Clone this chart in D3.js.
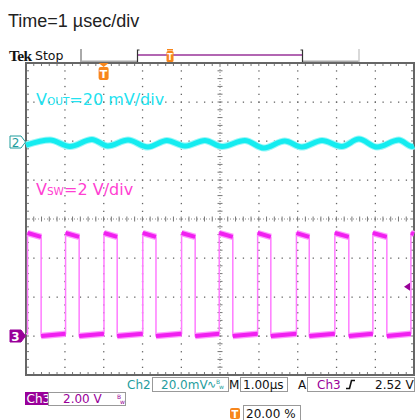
<!DOCTYPE html>
<html><head><meta charset="utf-8">
<script src="https://cdn.jsdelivr.net/npm/d3@7"></script>
<style>html,body{margin:0;padding:0;background:#fff;}svg{display:block;}</style>
</head><body>
<script>
// ---- data ----
const title = "Time=1 µsec/div";
const divisionsX = 10, divisionsY = 8, minorPerDiv = 5;
const timeDomain = [0, 10];              // µs
// Ch3 switching node: edge times (µs) and levels (V)
const swRise = [0.04, 1.02, 2.01, 3.01, 4.01, 4.98, 5.97, 6.97, 7.96, 8.94, 9.92];
const swFall = [0.39, 1.37, 2.35, 3.35, 4.36, 5.33, 6.31, 7.30, 8.32, 9.30];
const swHighLevels = [5.28, 5.08];       // start / end of on-time
const swLowLevels = [0.0, 0.12];         // start / end of off-time
// Ch2 output ripple (mV) at read-off turning points
const voutT  = [0, 0.62, 1.13, 1.70, 2.11, 2.63, 3.14, 3.63, 4.10, 4.61, 5.05, 5.64, 6.13, 6.67, 7.11, 7.63, 8.14, 8.58, 9.05, 9.61, 9.95, 10];
const voutMv = [-1.6, 1.0, -2.3, 1.3, -2.05, 1.0, -2.6, 0.8, -2.05, 0.8, -2.3, 0.8, -3.1, 0.5, -2.6, 0.8, -2.3, 1.5, -2.6, 1.0, -2.3, -2.05];
const labelVout = ["V", "OUT", "=20 mV/div"];
const labelVsw = ["V", "SW", "=2 V/div"];
const ch2Scale = "20.0mV", ch3Scale = "2.00 V", timeBase = "1.00µs", trigLevel = "2.52 V", trigPos = "20.00 %";
const trigTime = 2.0, trigVolts = 2.52;

// ---- layout ----
const W = 417, H = 420;
const gL = 26, gR = 414, gT = 63, gB = 375;
const svg = d3.select("body").append("svg").attr("width", W).attr("height", H);
const x = d3.scaleLinear().domain(timeDomain).range([gL, gR]);
const gx = d3.scaleLinear().domain([0, divisionsX]).range([gL, gR]);
const gy = d3.scaleLinear().domain([0, divisionsY]).range([gT, gB]);
const y2 = d3.scaleLinear().domain([0, 20]).range([142, 103]);   // mV
const y3 = d3.scaleLinear().domain([0, 2]).range([336, 297]);    // V

const orange = "#f7861c", purple = "#990099", teal = "#1f9d9d";

// title
svg.append("text").attr("x", 8).attr("y", 27).text(title)
  .style("font-family", "Liberation Sans, Arial, sans-serif").style("font-size", "18px").attr("fill", "#222");

// Tek Stop header
svg.append("text").attr("x", 9).attr("y", 60.5).text("Tek")
  .style("font-family", "Liberation Serif, serif").style("font-weight", "bold").style("font-size", "15.5px")
  .style("letter-spacing", "-0.6px").attr("fill", "#111");
svg.append("text").attr("x", 35).attr("y", 60).text("Stop")
  .style("font-family", "DejaVu Sans, sans-serif").style("font-size", "12.5px").attr("fill", "#111");
const hdr = svg.append("g");
hdr.append("line").attr("x1", 81).attr("x2", 81).attr("y1", 49).attr("y2", 62).attr("stroke", "#555");
hdr.append("line").attr("x1", 81).attr("x2", 137).attr("y1", 61.5).attr("y2", 61.5).attr("stroke", "#aaa").attr("stroke-width", 2);
hdr.append("line").attr("x1", 303).attr("x2", 359).attr("y1", 61.5).attr("y2", 61.5).attr("stroke", "#aaa").attr("stroke-width", 2);
hdr.append("line").attr("x1", 359).attr("x2", 359).attr("y1", 49).attr("y2", 62).attr("stroke", "#ccc").attr("stroke-width", 1.5);
hdr.append("line").attr("x1", 137).attr("x2", 303).attr("y1", 55).attr("y2", 55).attr("stroke", "#993399").attr("stroke-width", 1.5);
hdr.append("path").attr("d", "M139.5,50 H137.5 V62").attr("fill", "none").attr("stroke", "#333").attr("stroke-width", 1.2);
hdr.append("path").attr("d", "M300.5,50 H302.5 V62").attr("fill", "none").attr("stroke", "#333").attr("stroke-width", 1.2);
// small T in header
hdr.append("rect").attr("x", 166.5).attr("y", 51).attr("width", 7).attr("height", 11).attr("rx", 1.5).attr("fill", orange);
hdr.append("rect").attr("x", 167).attr("y", 49).attr("width", 6).attr("height", 1.5).attr("fill", orange);
hdr.append("text").attr("x", 170).attr("y", 60).attr("text-anchor", "middle").text("T")
  .style("font-family", "DejaVu Sans, sans-serif").style("font-weight", "bold").style("font-size", "8px").attr("fill", "#fff");

// ---- graticule ----
const grat = svg.append("g");
const minorX = d3.range(1, divisionsX * minorPerDiv).map(i => gx(i / minorPerDiv));
const minorY = d3.range(1, divisionsY * minorPerDiv).map(i => gy(i / minorPerDiv));
// dotted major grid lines
d3.range(1, divisionsX).filter(i => i !== divisionsX / 2).forEach(i => {
  minorY.forEach(yy => grat.append("rect").attr("x", gx(i) - 0.5).attr("y", yy - 0.5).attr("width", 1.3).attr("height", 1.3).attr("fill", "#666"));
});
d3.range(1, divisionsY).filter(j => j !== divisionsY / 2).forEach(j => {
  minorX.forEach(xx => grat.append("rect").attr("x", xx - 0.5).attr("y", gy(j) - 0.5).attr("width", 1.3).attr("height", 1.3).attr("fill", "#666"));
});
// center cross lines
const cx = gx(divisionsX / 2), cy = gy(divisionsY / 2);
grat.append("line").attr("x1", cx).attr("x2", cx).attr("y1", gT).attr("y2", gB).attr("stroke", "#888").attr("stroke-dasharray", "1,2");
grat.append("line").attr("x1", gL).attr("x2", gR).attr("y1", cy).attr("y2", cy).attr("stroke", "#888").attr("stroke-dasharray", "1,2");
minorY.forEach(yy => grat.append("line").attr("x1", cx - 2.5).attr("x2", cx + 2.5).attr("y1", yy).attr("y2", yy).attr("stroke", "#777"));
minorX.forEach(xx => grat.append("line").attr("x1", xx).attr("x2", xx).attr("y1", cy - 2.5).attr("y2", cy + 2.5).attr("stroke", "#777"));
// border ticks
minorX.forEach(xx => {
  grat.append("line").attr("x1", xx).attr("x2", xx).attr("y1", gT).attr("y2", gT + 3).attr("stroke", "#777");
  grat.append("line").attr("x1", xx).attr("x2", xx).attr("y1", gB - 3).attr("y2", gB).attr("stroke", "#777");
});
minorY.forEach(yy => {
  grat.append("line").attr("x1", gL).attr("x2", gL + 3).attr("y1", yy).attr("y2", yy).attr("stroke", "#777");
  grat.append("line").attr("x1", gR - 3).attr("x2", gR).attr("y1", yy).attr("y2", yy).attr("stroke", "#777");
});
grat.append("rect").attr("x", gL).attr("y", gT).attr("width", gR - gL).attr("height", gB - gT)
  .attr("fill", "none").attr("stroke", "#666").attr("stroke-width", 2);

// ---- Ch2 trace ----
const vout = voutT.map((t, i) => [t, voutMv[i]]);
const line2 = d3.line().x(d => x(d[0])).y(d => y2(d[1])).curve(d3.curveMonotoneX);
svg.append("path").datum(vout).attr("d", line2).attr("fill", "none").attr("stroke", "#9af7f7").attr("stroke-width", 7);
svg.append("path").datum(vout).attr("d", line2).attr("fill", "none").attr("stroke", "#14ecf0").attr("stroke-width", 5);

// ---- Ch3 trace ----
const swPts = [[0, swLowLevels[1]]];
swRise.forEach((r, i) => {
  swPts.push([r, swLowLevels[1]]);
  swPts.push([r, swHighLevels[0]]);
  const f = swFall[i];
  if (f !== undefined) {
    swPts.push([f, swHighLevels[1]]);
    swPts.push([f, swLowLevels[0]]);
  } else {
    swPts.push([timeDomain[1], swHighLevels[0] - 0.05]);
  }
});
const line3 = d3.line().x(d => x(d[0])).y(d => y3(d[1]));
svg.append("path").datum(swPts).attr("d", line3).attr("fill", "none").attr("stroke", "#ff7cff").attr("stroke-width", 1.5);
// flat portions (noisy band)
const flats = [];
swRise.forEach((r, i) => {
  const f = swFall[i] !== undefined ? swFall[i] : timeDomain[1];
  flats.push([[r, swHighLevels[0]], [f, swFall[i] !== undefined ? swHighLevels[1] : swHighLevels[0] - 0.05]]);
  const nr = swRise[i + 1];
  if (swFall[i] !== undefined) flats.push([[f, swLowLevels[0]], [nr !== undefined ? nr : timeDomain[1], swLowLevels[1]]]);
});
flats.forEach(seg => {
  svg.append("path").datum(seg).attr("d", line3).attr("fill", "none").attr("stroke", "#ff99ff").attr("stroke-width", 6.5);
  svg.append("path").datum(seg).attr("d", line3).attr("fill", "none").attr("stroke", "#f020f0").attr("stroke-width", 4);
});

// ---- labels ----
function subLabel(parts, yy, color) {
  const t = svg.append("text").attr("x", 36).attr("y", yy).attr("fill", color)
    .style("font-family", "DejaVu Sans, sans-serif").style("font-size", "16px");
  t.append("tspan").text(parts[0]);
  t.append("tspan").style("font-size", "10.5px").text(parts[1]);
  t.append("tspan").text(parts[2]);
}
subLabel(labelVout, 105, "#22e2f0");
subLabel(labelVsw, 195, "#ff3fd2");

// channel markers
function marker(yy, fill, stroke, txtColor, label) {
  svg.append("path").attr("d", `M10,${yy - 6} H21 L25.5,${yy} L21,${yy + 6} H10 Z`).attr("fill", fill).attr("stroke", stroke);
  svg.append("text").attr("x", 15.5).attr("y", yy + 4.5).attr("text-anchor", "middle").text(label)
    .style("font-family", "DejaVu Sans, sans-serif").style("font-size", "12px").style("font-weight", fill === "#fff" ? "normal" : "bold").attr("fill", txtColor);
}
marker(y2(0), "#fff", teal, teal, "2");
marker(y3(0), purple, purple, "#fff", "3");
// trigger level marker (right)
const ty = y3(trigVolts);
svg.append("path").attr("d", `M404,${ty} L410,${ty - 4} L410,${ty + 4} Z`).attr("fill", purple);
// trigger position marker (top)
const tx = x(trigTime);
svg.append("path").attr("d", `M${tx - 5},${gT} L${tx + 5},${gT} L${tx},${gT + 4} Z`).attr("fill", orange);
svg.append("rect").attr("x", tx - 5).attr("y", gT + 4).attr("width", 10).attr("height", 13).attr("rx", 2).attr("fill", orange);
svg.append("text").attr("x", tx).attr("y", gT + 15).attr("text-anchor", "middle").text("T")
  .style("font-family", "DejaVu Sans, sans-serif").style("font-weight", "bold").style("font-size", "11px").attr("fill", "#fff");

// ---- readouts ----
const ro = svg.append("g").style("font-family", "DejaVu Sans, sans-serif").style("font-size", "12px");
function box(x0, y0, w, h) { ro.append("rect").attr("x", x0 + 0.5).attr("y", y0 + 0.5).attr("width", w).attr("height", h).attr("fill", "#fff").attr("stroke", "#999"); }
function txt(x0, y0, s, c, size) { const t = ro.append("text").attr("x", x0).attr("y", y0).text(s).attr("fill", c); if (size) t.style("font-size", size); return t; }
txt(127, 389, "Ch2", teal);
box(152, 377, 76, 14);
txt(161, 389, ch2Scale, teal);
txt(207, 388, "∿", teal, "11px");
txt(216, 384, "B", teal, "6px"); txt(219, 389, "w", teal, "6px");
txt(229, 389, "M", "#111");
box(240, 377, 47, 14);
txt(243, 389, timeBase, "#111");
txt(298, 389, "A", "#111");
box(307, 377, 107, 14);
txt(317, 389, "Ch3", purple);
ro.append("path").attr("d", "M346,388.5 h3.5 l2,-8 h3.5").attr("fill", "none").attr("stroke", "#111").attr("stroke-width", 1.6);
txt(375, 389, trigLevel, "#111");

ro.append("rect").attr("x", 25).attr("y", 392).attr("width", 23).attr("height", 13).attr("fill", purple);
txt(26.5, 403, "Ch3", "#fff");
box(48, 392, 77, 13);
txt(63, 403, ch3Scale, purple);
txt(117, 399, "B", purple, "6px"); txt(120, 404, "w", purple, "6px");

ro.append("rect").attr("x", 230).attr("y", 408).attr("width", 10).attr("height", 11).attr("rx", 2).attr("fill", orange);
txt(235, 417.5, "T", "#fff", "10px").attr("text-anchor", "middle").style("font-weight", "bold");
box(243, 405, 57, 15);
txt(246, 417.5, trigPos, "#111");
</script>
</body></html>
